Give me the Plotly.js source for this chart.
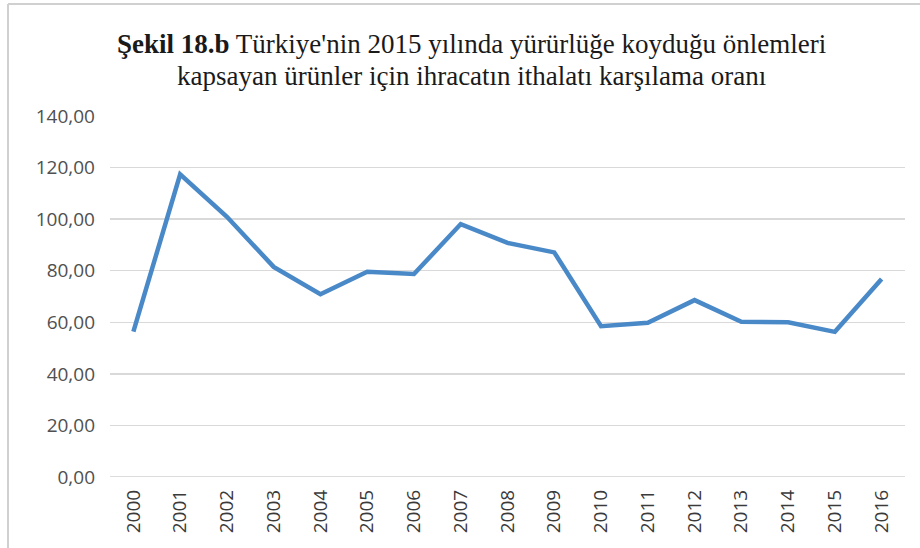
<!DOCTYPE html>
<html>
<head>
<meta charset="utf-8">
<script src="https://cdn.plot.ly/plotly-3.0.1.min.js"></script>
<style>html,body{margin:0;padding:0;background:#fff;}#chart{width:920px;height:548px;}</style>
</head>
<body>
<div id="chart"></div>
<script>
const years = ["2000","2001","2002","2003","2004","2005","2006","2007","2008","2009","2010","2011","2012","2013","2014","2015","2016"];
const ratio = [56.4, 117.4, 100.9, 81.5, 70.9, 79.6, 78.7, 98.1, 90.8, 87.1, 58.5, 59.8, 68.6, 60.2, 60.0, 56.3, 76.8];
const yTicks = [0, 20, 40, 60, 80, 100, 120, 140];
const yTickLabels = ["0,00", "20,00", "40,00", "60,00", "80,00", "100,00", "120,00", "140,00"];
const titleLines = [
  "<b>Şekil 18.b</b> Türkiye'nin 2015 yılında yürürlüğe koyduğu önlemleri",
  "kapsayan ürünler için ihracatın ithalatı karşılama oranı"
];

const W = 920, H = 548, L = 110, R = 15, T = 116, B = 71;
const pw = W - L - R, ph = H - T - B;
const titleFont = {family: "Liberation Serif, Times New Roman, serif", size: 27, color: "#1a1a1a"};

const trace = {
  x: years, y: ratio, type: "scatter", mode: "lines",
  line: {color: "#4a89c8", width: 4.5}, hoverinfo: "x+y"
};
const layout = {
  width: W, height: H,
  margin: {l: L, r: R, t: T, b: B},
  paper_bgcolor: "#fff", plot_bgcolor: "#fff",
  showlegend: false,
  annotations: [
    {text: titleLines[0], xref: "paper", yref: "paper", x: (471 - L)/pw, y: 1 + (T - 44)/ph,
     xanchor: "center", yanchor: "middle", showarrow: false, font: titleFont},
    {text: titleLines[1], xref: "paper", yref: "paper", x: (471 - L)/pw, y: 1 + (T - 76)/ph,
     xanchor: "center", yanchor: "middle", showarrow: false, font: titleFont}
  ],
  xaxis: {
    type: "category", tickangle: -90, showgrid: false, zeroline: false,
    showline: false, ticks: "", ticklabelstandoff: 8,
    tickfont: {family: "Open Sans, sans-serif", size: 19, color: "#3a3a3a"},
    range: [-0.5, 16.5]
  },
  yaxis: {
    range: [0, 140], tickvals: yTicks, ticktext: yTickLabels,
    showgrid: true, gridcolor: "#d9d9d9", gridwidth: 1.3, zeroline: false,
    showline: false, ticks: "", ticklen: 0, ticklabelstandoff: 14,
    tickfont: {family: "Open Sans, sans-serif", size: 19, color: "#505050"}
  },
  shapes: [
    {type: "line", xref: "paper", yref: "y", x0: 0, x1: 1, y0: 0, y1: 0, line: {color: "#d0d0d0", width: 1.3}},
    {type: "line", xref: "paper", yref: "paper", x0: (8 - L)/pw, x1: (8 - L)/pw, y0: -B/ph, y1: 1 + (T - 4)/ph,
     line: {color: "#d0d0d0", width: 2}},
    {type: "line", xref: "paper", yref: "paper", x0: (8 - L)/pw, x1: 1 + R/pw, y0: 1 + (T - 4)/ph, y1: 1 + (T - 4)/ph,
     line: {color: "#d0d0d0", width: 2}}
  ]
};
Plotly.newPlot("chart", [trace], layout, {displayModeBar: false, staticPlot: true});
</script>
</body>
</html>
